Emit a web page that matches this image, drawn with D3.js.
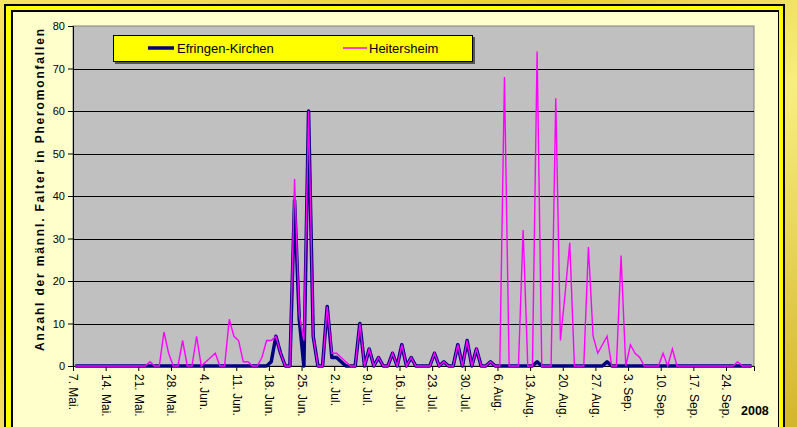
<!DOCTYPE html>
<html>
<head>
<meta charset="utf-8">
<script src="https://cdn.jsdelivr.net/npm/d3@7"></script>
<style>
  body { margin: 0; background: #e2cc3c; }
  svg { display: block; font-family: Arial, "Liberation Sans", sans-serif; }
</style>
</head>
<body>
<svg width="797" height="427"></svg>
<script>
// Tagesfänge 7. Mai - 29. Sep. 2008
var startDate = "2008-05-07";
var endDate = "2008-09-30";

var efringen = [
    0, 0, 0, 0, 0, 0, 0, 0, 0, 0,
    0, 0, 0, 0, 0, 0, 0, 0, 0, 0,
    0, 0, 0, 0, 0, 0, 0, 0, 0, 0,
    0, 0, 0, 0, 0, 0, 0, 0, 0, 0,
    0, 0, 1, 7, 3, 0, 0, 39, 11, 0,
    60, 7, 0, 0, 14, 2, 2, 1, 0, 0,
    0, 10, 0, 4, 0, 2, 0, 0, 3, 0,
    5, 0, 2, 0, 0, 0, 0, 3, 0, 1,
    0, 0, 5, 0, 6, 0, 4, 0, 0, 1,
    0, 0, 0, 0, 0, 0, 0, 0, 0, 1,
    0, 0, 0, 0, 0, 0, 0, 0, 0, 0,
    0, 0, 0, 0, 1, 0, 0, 0, 0, 0,
    0, 0, 0, 0, 0, 0, 0, 0, 0, 0,
    0, 0, 0, 0, 0, 0, 0, 0, 0, 0,
    0, 0, 0, 0, 0, 0
];

var heitersheim = [
    0, 0, 0, 0, 0, 0, 0, 0, 0, 0,
    0, 0, 0, 0, 0, 0, 1, 0, 0, 8,
    3, 0, 0, 6, 0, 0, 7, 0, 1, 2,
    3, 0, 0, 11, 7, 6, 1, 1, 0, 0,
    2, 6, 6, 7, 3, 0, 0, 44, 12, 6,
    60, 7, 0, 0, 14, 3, 3, 2, 1, 0,
    0, 10, 0, 4, 0, 2, 0, 0, 3, 0,
    5, 0, 2, 0, 0, 0, 0, 3, 0, 1,
    0, 0, 5, 0, 6, 0, 4, 0, 0, 1,
    0, 0, 68, 0, 0, 0, 32, 0, 0, 74,
    0, 0, 0, 63, 6, 17, 29, 0, 0, 0,
    28, 7, 3, 5, 7, 0, 0, 26, 0, 5,
    3, 2, 0, 0, 0, 0, 3, 0, 4, 0,
    0, 0, 0, 0, 0, 0, 0, 0, 0, 0,
    0, 0, 1, 0, 0, 0
];

var tickLabels = ["7. Mai.", "14. Mai.", "21. Mai.", "28. Mai.", "4. Jun.", "11. Jun.",
    "18. Jun.", "25. Jun.", "2. Jul.", "9. Jul.", "16. Jul.", "23. Jul.", "30. Jul.",
    "6. Aug.", "13. Aug.", "20. Aug.", "27. Aug.", "3. Sep.", "10. Sep.", "17. Sep.", "24. Sep."];
var yTicks = [0, 10, 20, 30, 40, 50, 60, 70, 80];
var seriesNames = ["Efringen-Kirchen", "Heitersheim"];

var svg = d3.select("svg");
var pLeft = 73, pRight = 754, pTop = 26, pBottom = 366;

var start = new Date(startDate + "T00:00:00Z");
var dates = efringen.map(function(v, i) { return d3.utcDay.offset(start, i); });
var tickDates = tickLabels.map(function(l, i) { return d3.utcDay.offset(start, 7 * i); });

var x = d3.scaleUtc()
    .domain([start, new Date(endDate + "T00:00:00Z")])
    .range([pLeft, pRight]);
var y = d3.scaleLinear().domain([0, 80]).range([pBottom, pTop]);

// hintergrund + rahmen
var defs = svg.append("defs");
var grad = defs.append("linearGradient").attr("id", "gold")
    .attr("x1", "0").attr("y1", "0").attr("x2", "1").attr("y2", "1");
grad.append("stop").attr("offset", "0%").attr("stop-color", "#f5e660");
grad.append("stop").attr("offset", "35%").attr("stop-color", "#e6cf3a");
grad.append("stop").attr("offset", "60%").attr("stop-color", "#f8ee80");
grad.append("stop").attr("offset", "100%").attr("stop-color", "#d2b52e");

svg.append("rect").attr("width", 797).attr("height", 427).attr("fill", "url(#gold)");
svg.append("rect").attr("x", 4).attr("y", 4).attr("width", 781).attr("height", 440).attr("fill", "#000");
svg.append("rect").attr("x", 6).attr("y", 6).attr("width", 777).attr("height", 440).attr("fill", "#ffff00");
svg.append("rect").attr("x", 11).attr("y", 10).attr("width", 768).attr("height", 440).attr("fill", "#000");
svg.append("rect").attr("x", 13).attr("y", 12).attr("width", 765).attr("height", 440).attr("fill", "#ffffcc");

// plotfläche
svg.append("rect")
    .attr("x", pLeft).attr("y", pTop)
    .attr("width", pRight - pLeft).attr("height", pBottom - pTop)
    .attr("fill", "#c0c0c0")
    .attr("stroke", "#808080");

svg.append("g")
    .selectAll("line")
    .data(yTicks.filter(function(d) { return d > 0 && d < 80; }))
    .enter().append("line")
    .attr("x1", pLeft).attr("x2", pRight)
    .attr("y1", function(d) { return Math.round(y(d)) + 0.5; })
    .attr("y2", function(d) { return Math.round(y(d)) + 0.5; })
    .attr("stroke", "#000");

// achsen
var gy = svg.append("g")
    .attr("transform", "translate(" + pLeft + ",0)")
    .call(d3.axisLeft(y).tickValues(yTicks).tickSize(5).tickPadding(3));
gy.attr("font-family", null);
gy.selectAll("text").attr("font-size", 11).attr("fill", "#000");
gy.selectAll("line, path").attr("stroke", "#000");

var gx = svg.append("g")
    .attr("transform", "translate(0," + pBottom + ")")
    .call(d3.axisBottom(x).tickValues(tickDates).tickSize(5)
        .tickFormat(function(d, i) { return tickLabels[i]; }));
gx.attr("font-family", null);
gx.selectAll("text")
    .attr("transform", "rotate(90)")
    .attr("x", 8).attr("y", 0).attr("dy", "0.35em")
    .attr("font-size", 12).attr("fill", "#000")
    .style("text-anchor", "start");
gx.selectAll("line, path").attr("stroke", "#000");

svg.append("text")
    .attr("transform", "translate(44," + 190 + ") rotate(-90)")
    .attr("text-anchor", "middle")
    .attr("font-size", 12)
    .attr("font-weight", "bold")
    .attr("textLength", 322)
    .attr("lengthAdjust", "spacing")
    .text("Anzahl der männl. Falter in Pheromonfallen");

svg.append("text")
    .attr("x", 741).attr("y", 415)
    .attr("font-size", 12.5)
    .attr("font-weight", "bold")
    .text("2008");

// linien
var line = d3.line()
    .x(function(d, i) { return x(d3.utcHour.offset(dates[i], 12)); })
    .y(function(d) { return y(d); });

svg.append("path")
    .datum(efringen)
    .attr("fill", "none")
    .attr("stroke", "#000080")
    .attr("stroke-width", 3.5)
    .attr("stroke-linejoin", "round")
    .attr("d", line);

svg.append("path")
    .datum(heitersheim)
    .attr("fill", "none")
    .attr("stroke", "#ff00ff")
    .attr("stroke-width", 1.4)
    .attr("d", line);

// legende
var lg = svg.append("g");
lg.append("rect").attr("x", 115).attr("y", 37).attr("width", 360).attr("height", 27).attr("fill", "#555");
lg.append("rect").attr("x", 113.5).attr("y", 35.5).attr("width", 359).attr("height", 26)
    .attr("fill", "#ffff00").attr("stroke", "#000");
lg.append("line").attr("x1", 148).attr("x2", 174).attr("y1", 48).attr("y2", 48)
    .attr("stroke", "#000080").attr("stroke-width", 3.5);
lg.append("text").attr("x", 177).attr("y", 52.5).attr("font-size", 13).text(seriesNames[0]);
lg.append("line").attr("x1", 343).attr("x2", 367).attr("y1", 48).attr("y2", 48)
    .attr("stroke", "#ff00ff").attr("stroke-width", 1.5);
lg.append("text").attr("x", 369).attr("y", 52.5).attr("font-size", 13).text(seriesNames[1]);
</script>
</body>
</html>
